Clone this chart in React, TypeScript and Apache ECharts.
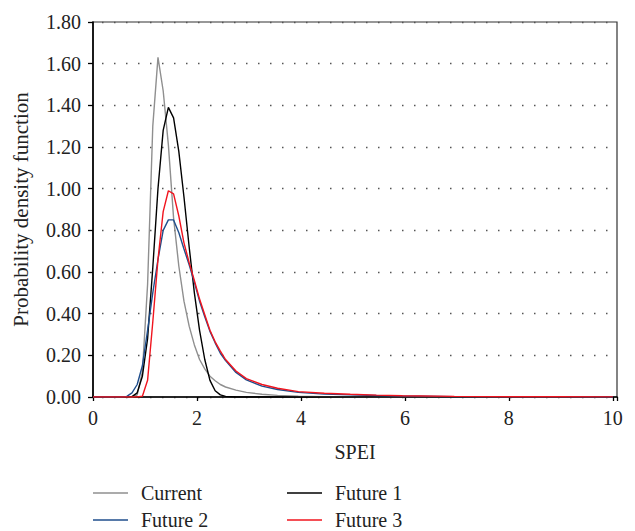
import React, { useEffect, useRef } from "react";
import * as echarts from "echarts";

const spei = [0, 0.55, 0.65, 0.75, 0.85, 0.95, 1.05, 1.15, 1.25, 1.35, 1.45, 1.55, 1.65, 1.75, 1.85, 1.95, 2.05, 2.15, 2.25, 2.35, 2.45, 2.55, 2.75, 2.95, 3.25, 3.55, 3.95, 4.45, 4.95, 5.45, 5.95, 6.95, 7.95, 8.95, 10.0];

const current = [0, 0, 0, 0, 0.01, 0.12, 0.54, 1.3, 1.63, 1.47, 1.21, 0.86, 0.63, 0.46, 0.34, 0.25, 0.18, 0.135, 0.1, 0.078, 0.06, 0.048, 0.033, 0.022, 0.013, 0.008, 0.004, 0.002, 0.001, 0, 0, 0, 0, 0, 0];
const future1 = [0, 0, 0, 0.002, 0.02, 0.1, 0.28, 0.62, 1.0, 1.28, 1.39, 1.34, 1.18, 0.96, 0.72, 0.5, 0.32, 0.18, 0.08, 0.03, 0.01, 0.003, 0, 0, 0, 0, 0, 0, 0, 0, 0, 0, 0, 0, 0];
const future2 = [0, 0, 0.003, 0.02, 0.06, 0.15, 0.32, 0.5, 0.66, 0.8, 0.85, 0.85, 0.79, 0.71, 0.635, 0.55, 0.46, 0.385, 0.315, 0.26, 0.21, 0.175, 0.118, 0.082, 0.052, 0.036, 0.022, 0.014, 0.01, 0.007, 0.005, 0.002, 0.001, 0.0005, 0.0003];
const future3 = [0, 0, 0, 0, 0, 0.004, 0.08, 0.36, 0.66, 0.89, 0.99, 0.975, 0.87, 0.74, 0.645, 0.56, 0.47, 0.395, 0.32, 0.265, 0.22, 0.18, 0.125, 0.088, 0.06, 0.042, 0.026, 0.018, 0.013, 0.009, 0.006, 0.003, 0.0015, 0.001, 0.0005];

const seriesNames = ["Current", "Future 1", "Future 2", "Future 3"];
const seriesColors = ["#8f8f8f", "#000000", "#1f4e8c", "#f0141e"];
const seriesValues = [current, future1, future2, future3];

const FONT = "'Liberation Serif', 'Times New Roman', serif";

export default function App() {
  const ref = useRef<HTMLDivElement>(null);
  useEffect(() => {
    if (!ref.current) return;
    const chart = echarts.init(ref.current, undefined, { renderer: "svg" });
    const legendText = { fontFamily: FONT, fontSize: 20, color: "#222", lineHeight: 20, padding: [0, 0, 0, 8] };
    const legendBase = {
      orient: "vertical",
      top: 483,
      padding: 0,
      icon: "rect",
      itemWidth: 35,
      itemHeight: 1.6,
      itemGap: 7,
      textStyle: legendText,
    };
    chart.setOption({
      animation: false,
      textStyle: { fontFamily: FONT },
      grid: {
        left: 93,
        right: 18,
        top: 22,
        bottom: 134,
        show: true,
        borderColor: "#333",
        borderWidth: 1.2,
      },
      legend: [
        { ...legendBase, data: [seriesNames[0], seriesNames[2]], left: 93 },
        { ...legendBase, data: [seriesNames[1], seriesNames[3]], left: 287 },
      ],
      xAxis: {
        type: "value",
        min: 0,
        max: 10.08,
        interval: 2,
        name: "SPEI",
        nameLocation: "middle",
        nameGap: 45,
        nameTextStyle: { fontFamily: FONT, fontSize: 20, color: "#222" },
        axisLine: { lineStyle: { color: "#000", width: 1.6 } },
        axisTick: { show: true, length: 4, lineStyle: { color: "#000", width: 1.3 } },
        axisLabel: {
          fontFamily: FONT,
          fontSize: 20,
          color: "#222",
          margin: 11,
          formatter: (v: number) => (Math.abs(v % 2) < 1e-9 && v <= 10 ? String(v) : ""),
        },
        splitLine: { show: false },
      },
      yAxis: {
        type: "value",
        min: 0,
        max: 1.8,
        interval: 0.2,
        name: "Probability density function",
        nameLocation: "middle",
        nameGap: 62,
        nameTextStyle: { fontFamily: FONT, fontSize: 21, color: "#222" },
        axisLine: { show: true, lineStyle: { color: "#000", width: 1.6 } },
        axisTick: { show: true, length: 5, lineStyle: { color: "#000", width: 1.3 } },
        axisLabel: {
          fontFamily: FONT,
          fontSize: 20,
          color: "#222",
          margin: 12,
          formatter: (v: number) => v.toFixed(2),
        },
        splitLine: {
          show: true,
          lineStyle: { color: "#555", width: 1.4, type: [1.5, 10.5], dashOffset: 3 },
        },
      },
      series: seriesNames.map((name, i) => ({
        name,
        type: "line",
        data: spei.map((x, j) => [x, seriesValues[i][j]]),
        showSymbol: false,
        symbol: "none",
        lineStyle: { color: seriesColors[i], width: 1.4 },
        itemStyle: { color: seriesColors[i] },
        z: 2 + i,
      })),
    });
    return () => chart.dispose();
  }, []);
  return (
    <div
      ref={ref}
      style={{ position: "fixed", left: 0, top: 0, width: 635, height: 531, background: "#fff" }}
    />
  );
}
